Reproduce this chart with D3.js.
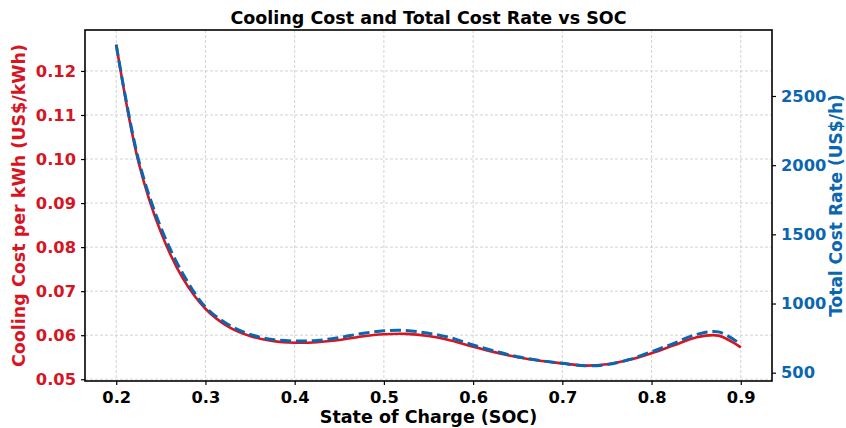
<!DOCTYPE html>
<html>
<head>
<meta charset="utf-8">
<script src="https://cdn.jsdelivr.net/npm/d3@7"></script>
<style>
  body { margin: 0; background: #fff; }
  text { font-family: "DejaVu Sans", sans-serif; font-weight: bold; }
</style>
</head>
<body>
<svg width="846" height="428"></svg>
<script>
// state of charge samples
var soc = [0.2, 0.225, 0.25, 0.275, 0.3, 0.325, 0.35, 0.375, 0.4, 0.425, 0.45, 0.475,
           0.5, 0.525, 0.55, 0.575, 0.6, 0.625, 0.65, 0.675, 0.7, 0.725, 0.75, 0.775,
           0.8, 0.825, 0.85, 0.875, 0.9];
// cooling cost per kWh (US$/kWh)
var coolingCost = [0.1260, 0.0993, 0.0834, 0.0728, 0.0660, 0.0620, 0.0598, 0.0587, 0.0583, 0.0584, 0.0589, 0.0597,
                   0.0602, 0.0603, 0.0598, 0.0588, 0.0574, 0.0561, 0.0550, 0.0542, 0.0536, 0.0531, 0.0534, 0.0544,
                   0.0559, 0.0577, 0.0595, 0.0599, 0.0572];
// total cost rate (US$/h)
var totalCost = [2869, 2040, 1550, 1212, 975, 850, 777, 740, 729, 733, 754, 783,
                 803, 805, 785, 752, 700, 655, 615, 588, 568, 550, 558, 595,
                 652, 712, 776, 795, 705];
var xTicks = [0.2, 0.3, 0.4, 0.5, 0.6, 0.7, 0.8, 0.9];
var leftTicks = [0.05, 0.06, 0.07, 0.08, 0.09, 0.10, 0.11, 0.12];
var rightTicks = [500, 1000, 1500, 2000, 2500];

var red = "#d7141f", blue = "#0b66b0";
var fs = "17.5px", tfs = "16.3px";

var svg = d3.select("svg"),
    margin = {top: 30, right: 74, bottom: 47, left: 85},
    width = 846 - margin.left - margin.right,
    height = 428 - margin.top - margin.bottom;

var x = d3.scaleLinear().domain([0.165, 0.935]).range([0, width]);
var yL = d3.scaleLinear().domain([0.0496, 0.1293]).range([height, 0]);
var yR = d3.scaleLinear().domain([440, 2977]).range([height, 0]);

var g = svg.append("g").attr("transform", "translate(" + margin.left + "," + margin.top + ")");

// grid
g.append("g").selectAll("line").data(xTicks).enter().append("line")
    .attr("x1", function(d) { return x(d); }).attr("x2", function(d) { return x(d); })
    .attr("y1", 0).attr("y2", height)
    .attr("stroke", "#c8c8c8").attr("stroke-width", 0.8).attr("stroke-dasharray", "3,2");
g.append("g").selectAll("line").data(leftTicks).enter().append("line")
    .attr("y1", function(d) { return yL(d); }).attr("y2", function(d) { return yL(d); })
    .attr("x1", 0).attr("x2", width)
    .attr("stroke", "#c8c8c8").attr("stroke-width", 0.8).attr("stroke-dasharray", "3,2");

var pts = soc.map(function(s, i) { return {s: s, c: coolingCost[i], t: totalCost[i]}; });

var lineL = d3.line().curve(d3.curveCatmullRom.alpha(0.5))
    .x(function(d) { return x(d.s); }).y(function(d) { return yL(d.c); });
var lineR = d3.line().curve(d3.curveCatmullRom.alpha(0.5))
    .x(function(d) { return x(d.s); }).y(function(d) { return yR(d.t); });

g.append("path").datum(pts).attr("d", lineL)
    .attr("fill", "none").attr("stroke", red).attr("stroke-width", 2.6);
g.append("path").datum(pts).attr("d", lineR)
    .attr("fill", "none").attr("stroke", blue).attr("stroke-width", 3)
    .attr("stroke-dasharray", "11,4.8");

// axes
var ax = g.append("g").attr("transform", "translate(0," + height + ")")
    .call(d3.axisBottom(x).tickValues(xTicks).tickFormat(d3.format(".1f")).tickSize(4).tickPadding(6));
var al = g.append("g")
    .call(d3.axisLeft(yL).tickValues(leftTicks).tickFormat(d3.format(".2f")).tickSize(4).tickPadding(5));
var ar = g.append("g").attr("transform", "translate(" + width + ",0)")
    .call(d3.axisRight(yR).tickValues(rightTicks).tickFormat(d3.format("d")).tickSize(4).tickPadding(5));

[ax, al, ar].forEach(function(a) {
  a.select(".domain").remove();
  a.selectAll(".tick line").attr("stroke", "#000").attr("stroke-width", 1.2);
  a.selectAll("text").style("font-size", tfs).style("font-family", "DejaVu Sans").style("font-weight", "bold");
});
ax.selectAll("text").attr("fill", "#000");
al.selectAll("text").attr("fill", red);
ar.selectAll("text").attr("fill", blue);

// frame
g.append("rect").attr("width", width).attr("height", height)
    .attr("fill", "none").attr("stroke", "#000").attr("stroke-width", 1.6);

// labels
svg.append("text").attr("x", margin.left + width / 2).attr("y", 24)
    .attr("text-anchor", "middle").style("font-size", fs)
    .text("Cooling Cost and Total Cost Rate vs SOC");
svg.append("text").attr("x", margin.left + width / 2).attr("y", 423)
    .attr("text-anchor", "middle").style("font-size", fs)
    .text("State of Charge (SOC)");
svg.append("text").attr("transform", "translate(25," + (margin.top + height / 2) + ") rotate(-90)")
    .attr("text-anchor", "middle").attr("fill", red).style("font-size", fs)
    .text("Cooling Cost per kWh (US$/kWh)");
svg.append("text").attr("transform", "translate(842," + (margin.top + height / 2) + ") rotate(-90)")
    .attr("text-anchor", "middle").attr("fill", blue).style("font-size", "17px")
    .text("Total Cost Rate (US$/h)");
</script>
</body>
</html>
